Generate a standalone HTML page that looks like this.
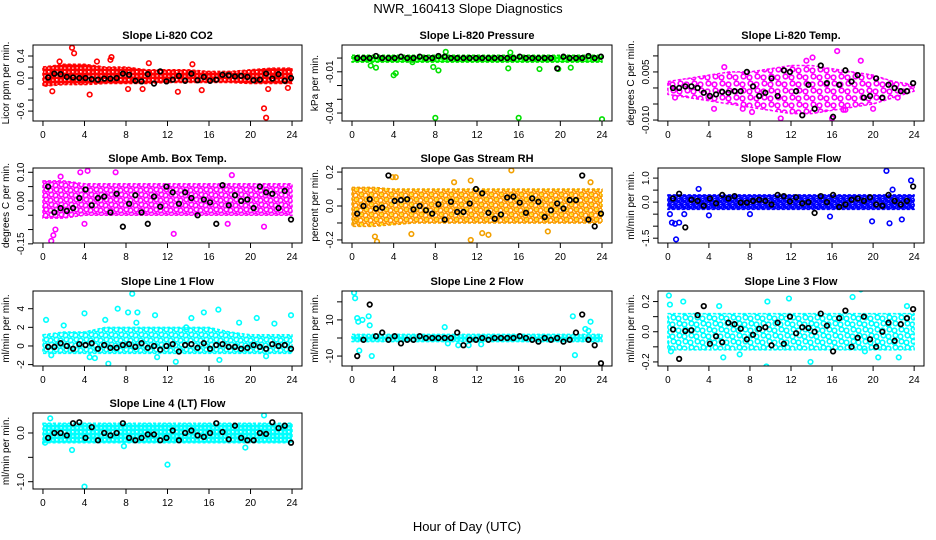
<!DOCTYPE html>
<html><head><meta charset="utf-8"><style>
html,body{margin:0;padding:0;background:#fff}
svg{display:block;font-family:"Liberation Sans",sans-serif}
</style></head><body>
<svg id="chart" width="936" height="540" viewBox="0 0 936 540" xmlns="http://www.w3.org/2000/svg">
<text x="468" y="13" text-anchor="middle" font-size="13">NWR_160413  Slope Diagnostics</text>
<text x="467" y="531" text-anchor="middle" font-size="13">Hour of Day (UTC)</text>
</svg>
<script>
// ---- data ----
const titles = ["Slope Li-820 CO2","Slope Li-820 Pressure","Slope Li-820 Temp.","Slope Amb. Box Temp.","Slope Gas Stream RH","Slope Sample Flow","Slope Line 1 Flow","Slope Line 2 Flow","Slope Line 3 Flow","Slope Line 4 (LT) Flow"];
const yTitles = ["Licor ppm per min.","kPa per min.","degrees C per min.","degrees C per min.","percent per min.","ml/min per min.","ml/min per min.","ml/min per min.","ml/min per min.","ml/min per min."];
const yLimits = [[-0.78,0.6],[-0.0458,0.0095],[-0.0103,0.0134],[-0.147,0.115],[-0.218,0.224],[-1.7,1.42],[-2.15,5.9],[-15.5,26],[-0.227,0.27],[-1.15,0.41]];
const yTicks = [[-0.6,-0.4,-0.2,0,0.2,0.4],[-0.04,-0.03,-0.02,-0.01,0],[-0.01,-0.005,0,0.005,0.01],[-0.15,-0.1,-0.05,0,0.05,0.1],[-0.2,-0.1,0,0.1,0.2],[-1.5,-1,-0.5,0,0.5,1],[-2,0,2,4],[-10,0,10,20],[-0.2,-0.1,0,0.1,0.2],[-1,-0.5,0]];
const yTickLabels = [["-0.6","0.0","0.4"],["-0.04","-0.01"],["-0.010","0.005"],["-0.15","0.00","0.10"],["-0.2","0.0","0.2"],["-1.5","0.0","1.0"],["-2","0","2","4"],["-10","10"],["-0.2","0.0","0.2"],["-1.0","0.0"]];
const yTickLabelValues = [[-0.6,0,0.4],[-0.04,-0.01],[-0.01,0.005],[-0.15,0,0.1],[-0.2,0,0.2],[-1.5,0,1],[-2,0,2,4],[-10,10],[-0.2,0,0.2],[-1,0]];
const xTicks = [0,4,8,12,16,20,24];
const bandHours = [0,2,4,6,8,10,12,14,16,18,20,22,24];
const bandHi = [
 [0.2,0.25,0.25,0.2,0.2,0.15,0.15,0.15,0.12,0.12,0.15,0.18,0.18],
 [0.002,0.002,0.002,0.002,0.002,0.002,0.002,0.002,0.002,0.002,0.002,0.002,0.002],
 [0.002,0.003,0.004,0.005,0.005,0.006,0.007,0.007,0.006,0.005,0.004,0.002,0.001],
 [0.07,0.07,0.06,0.06,0.06,0.06,0.06,0.06,0.06,0.06,0.06,0.06,0.06],
 [0.11,0.11,0.1,0.1,0.1,0.1,0.1,0.1,0.1,0.1,0.1,0.1,0.1],
 [0.3,0.3,0.3,0.3,0.3,0.3,0.3,0.3,0.3,0.3,0.3,0.3,0.3],
 [1.2,1.5,1.5,2,2,2,2,2,2,1.5,1.2,1.2,1.2],
 [2,2,2,2,2,2,2,2,2,2,2,2,2],
 [0.12,0.12,0.12,0.12,0.12,0.12,0.12,0.12,0.12,0.12,0.12,0.12,0.12],
 [0.2,0.2,0.2,0.2,0.2,0.2,0.2,0.2,0.2,0.2,0.2,0.2,0.2]];
const bandLo = [
 [-0.15,-0.12,-0.12,-0.1,-0.1,-0.1,-0.08,-0.08,-0.08,-0.08,-0.1,-0.1,-0.1],
 [-0.003,-0.003,-0.003,-0.003,-0.003,-0.003,-0.003,-0.003,-0.003,-0.003,-0.003,-0.003,-0.003],
 [-0.002,-0.003,-0.004,-0.005,-0.006,-0.007,-0.008,-0.008,-0.007,-0.006,-0.005,-0.003,-0.001],
 [-0.06,-0.06,-0.05,-0.05,-0.05,-0.05,-0.05,-0.05,-0.05,-0.05,-0.05,-0.05,-0.05],
 [-0.12,-0.12,-0.11,-0.1,-0.1,-0.1,-0.1,-0.1,-0.1,-0.1,-0.1,-0.1,-0.1],
 [-0.3,-0.3,-0.3,-0.3,-0.3,-0.3,-0.3,-0.3,-0.3,-0.3,-0.3,-0.3,-0.3],
 [-0.8,-0.8,-0.8,-0.8,-0.8,-0.8,-0.8,-0.8,-0.8,-0.8,-0.8,-0.8,-0.8],
 [-2,-2,-2,-2,-2,-2,-2,-2,-2,-2,-2,-2,-2],
 [-0.12,-0.12,-0.12,-0.12,-0.12,-0.12,-0.12,-0.12,-0.12,-0.12,-0.12,-0.12,-0.12],
 [-0.2,-0.2,-0.2,-0.2,-0.2,-0.2,-0.2,-0.2,-0.2,-0.2,-0.2,-0.2,-0.2]];
const outlierHours = [
 [2.8,3,4.5,6.6,6.5,8.2,9.6,13,14.4,15.3,21.3,21.5,21.7,23.6,5.2,1.6,10.2,0.9],
 [8,16,24,4,4.2,8.3,1.8,2.3,9,15.2,19.8,18,15,7.8,5.8,21],
 [16.5,14.1,11,16,17.3,17.1,8.2,7.3,20,4.5,5.5,13.5,18.8,0.7,22.4],
 [0.8,1,1.2,1.7,4.3,3.6,7,12.6,18.2,21.3,0.3,4,17.8],
 [2.2,2.4,3.9,4.2,9.8,11.4,11.4,12.5,13.1,15.3,22.9,5.7,18.8,0.3],
 [21.3,23.7,0.2,0.4,0.7,0.8,1.1,4,8,15.8,19.9,21.6,22.8,3,21.9,1.6],
 [8.6,7.2,8.2,9.1,4,10.8,16.9,23.9,15.5,0.3,6,14.3,20.6,18.9,6.3,12.8,17,4.5,5,11,21.5,2,13.8,22.3,0.8,9],
 [0.2,0.3,0.5,0.6,1,1.6,1.7,1.9,0.7,8.9,21.2,21.4,22.9,22.4,22.7,9.2,10.2,11.2,12.4],
 [0.1,0.2,1.5,5,11.8,18,18.8,9.7,0.3,9.6,13.9,5.4,20.5,22.5,19.2,7,23.3],
 [4,12,0.7,21.3,2.8,19.5,7.8,0.2]];
const outlierValues = [
 [0.55,0.45,-0.3,0.38,0.33,-0.2,-0.2,-0.25,0.25,-0.22,-0.55,-0.72,-0.2,-0.18,0.3,0.3,0.27,-0.24],
 [-0.0435,-0.0435,-0.0445,-0.0125,-0.011,-0.009,-0.0055,-0.007,0.0045,0.004,-0.008,-0.008,-0.0075,-0.0065,-0.003,-0.007],
 [0.0115,0.0095,-0.0095,-0.0095,-0.0068,-0.0068,-0.0075,-0.0065,-0.0065,-0.0065,0.0065,0.0085,0.0085,-0.003,-0.003],
 [-0.14,-0.12,-0.1,0.085,0.105,0.1,0.1,-0.115,0.09,-0.09,-0.03,-0.08,-0.08],
 [-0.18,-0.21,0.17,0.17,0.14,0.15,-0.2,-0.16,-0.17,0.21,0.14,-0.165,-0.15,-0.09],
 [1.3,0.9,-0.5,-0.85,-0.9,-1.55,-0.85,-0.55,-0.5,-0.6,-0.8,-0.88,-0.72,0.55,0.52,-0.5],
 [5.6,4,3.6,3.6,3.5,3.3,3.9,3.3,3.6,2.8,2.8,3,3,2.5,-1.9,-1.7,-1.5,-1.2,-1.3,-1.2,-1.1,2.2,2.0,2.4,-1,2.5],
 [25,22,11,9,10,12,7,-10,-7,6,12,-9.5,9,5,4,-3,-4,-4,-3.5],
 [0.24,0.18,0.2,0.17,0.22,0.23,0.28,0.2,-0.13,-0.23,-0.2,-0.17,-0.17,-0.17,-0.13,-0.15,0.17],
 [-1.1,-0.65,0.3,0.36,-0.35,-0.3,-0.27,-0.2]];
const blackValues = [
 [0.01,0.08,0.07,0.02,0.01,0,0.0,-0.02,-0.03,-0.01,-0.01,0.0,0.08,0.06,-0.05,-0.06,0.07,-0.1,0.12,-0.06,-0.03,0.04,-0.05,0.08,-0.04,0.02,-0.05,-0.03,0.06,0.05,0.03,0.04,0.02,-0.04,-0.03,0.08,-0.01,0.07,-0.05,0.0],
 [0,0,0,0.0015,0,0,0,0.001,0,0,0.001,0,0,0.0015,0.001,0,0,0,0,0,0,0,0,0,0,0,0.001,0,0,0,0,0,-0.0075,0.001,0,0,0,0.0015,0,0.001],
 [0,0,0.0005,0.0005,0,-0.0015,-0.0025,-0.002,-0.0012,-0.0015,-0.001,-0.001,0.005,0.0005,-0.0025,-0.0015,0.003,-0.0025,0.0055,0.005,-0.001,-0.0085,0.001,-0.0065,0.007,0.0015,-0.009,0.001,0.0055,0.002,0.004,-0.003,-0.0025,0.003,-0.003,0.001,0,-0.001,-0.001,0.0015],
 [0.05,-0.04,-0.025,-0.035,-0.025,0.01,0.04,-0.015,0.01,0.015,-0.04,0.025,-0.09,-0.01,0.02,-0.04,-0.08,0.015,-0.02,0.05,0.03,-0.01,0.03,0.01,-0.05,0.005,-0.005,-0.08,0.055,-0.015,0.02,0,0.005,-0.025,0.05,0.03,0.025,-0.025,0.035,-0.065],
 [-0.045,0,0.04,-0.015,-0.01,0.18,0.03,0.035,0.04,-0.02,0,-0.025,-0.045,0.01,-0.08,0.025,-0.035,-0.035,0.015,0.1,0.075,-0.04,-0.075,-0.05,0.05,0.055,0.02,-0.04,0.045,0.025,-0.065,-0.025,0.015,-0.015,0.035,0.035,0.18,-0.08,-0.12,-0.045],
 [0.15,0.35,-1.05,0.1,0.05,-0.15,0.15,-0.05,0.3,0.15,0.25,-0.02,-0.02,0.05,0.1,0.05,-0.1,0.3,0.25,0.03,0.2,-0.05,0.0,-0.45,0.25,0.0,0.3,-0.2,-0.1,0.1,0.15,0.05,0.2,-0.1,-0.15,0.3,0.05,-0.1,0.05,0.65],
 [-0.1,-0.1,0.3,0,-0.3,0.2,0.1,0.3,-0.3,0.1,-0.2,-0.2,0.1,0.2,-0.1,0.3,-0.2,0.0,-0.4,0.0,0.2,-0.6,0.1,0.2,-0.2,0.3,-0.3,0.1,0.2,-0.1,-0.1,-0.3,-0.2,0.1,-0.1,-0.3,0.2,0.0,0.1,-0.3],
 [-10,-1,18.5,1,3,-1,1,-3,-1,-1,1,0,0,0,0,0,3,-4,-1,-1,0,-1,0,0,0,0,1,0,-1,-2,0,-1,0,-2,-1,3,13,-1,-4,-14],
 [0.015,-0.18,0.005,0.01,0.11,0.17,-0.08,-0.03,-0.07,0.06,0.05,0.02,-0.05,-0.02,0.02,0.03,-0.09,0.06,-0.08,0.1,-0.01,0.03,0.025,0.0,0.12,0.04,-0.13,0.09,0.14,-0.1,-0.04,0.1,-0.05,-0.1,0.0,0.06,-0.06,0.05,0.09,0.15],
 [-0.1,0.0,0.0,-0.05,0.2,0.22,-0.1,0.12,-0.15,0.0,-0.05,0.0,0.2,-0.1,-0.15,-0.1,-0.03,-0.03,-0.15,-0.1,0.05,-0.15,0.0,0.05,-0.05,-0.08,0.0,0.2,0.02,-0.13,0.15,-0.1,-0.15,-0.15,0.0,-0.02,0.22,0.1,0.15,-0.2]];
const seriesColors = ["#ff0000","#00e000","#ff00ff","#ff00ff","#f2a000","#0000ff","#00ffff","#00ffff","#00ffff","#00ffff"];
const bandFills = ["#ff0000","#00ff00","#ff00ff","#ff00ff","#ff9900","#0000ff","#00ffff","#00ffff","#00ffff","#00ffff"];
const bandSpacing = [4,4,7,5,5,3,5,4,6,4];

// ---- layout ----
const colL=[33,342,658], colR=[302,612,924];
const rowT=[45,168,291,413], rowB=[121,243,366,489];
const NS="http://www.w3.org/2000/svg";
const svg=document.getElementById('chart');
function mk(tag,attrs,parent){const e=document.createElementNS(NS,tag);for(const k in attrs)e.setAttribute(k,attrs[k]);(parent||svg).appendChild(e);return e;}
const defs=mk('defs',{});

titles.forEach((title,p)=>{
  const c=p%3, r=Math.floor(p/3);
  const L=colL[c], R=colR[c], T=rowT[r], B=rowB[r];
  const padX=(R-L)*0.04/1.08;
  const xs=h=>L+padX+(h/24)*(R-L-2*padX);
  const [ymin,ymax]=yLimits[p];
  const ys=v=>B-(v-ymin)/(ymax-ymin)*(B-T);
  // texture pattern of ring markers
  const s=bandSpacing[p];
  const pat=mk('pattern',{id:'pat'+p,width:s*2,height:s*2,patternUnits:'userSpaceOnUse'},defs);
  mk('rect',{width:s*2,height:s*2,fill:'#fff'},pat);
  [[0,0],[s,s],[s*2,0],[0,s*2],[s*2,s*2]].forEach(([a,b])=>mk('circle',{cx:a+0.5,cy:b+0.5,r:2.3,fill:'none',stroke:bandFills[p],'stroke-width':1.6},pat));
  [[s,0],[0,s],[s*2,s],[s,s*2]].forEach(([a,b])=>mk('circle',{cx:a+1.5,cy:b-0.5,r:2.3,fill:'none',stroke:bandFills[p],'stroke-width':1.6},pat));
  if(p===4){[[s,0],[0,s],[s*2,s],[s,s*2]].forEach(([a,b])=>mk('circle',{cx:a+1.5,cy:b-0.5,r:1.2,fill:'#ffee00'},pat));}

  const g=mk('g',{});
  
  
  const clipId='clip'+p;
  const cp=mk('clipPath',{id:clipId},g);
  mk('rect',{x:L,y:T,width:R-L,height:B-T},cp);
  const pg=mk('g',{'clip-path':'url(#'+clipId+')'},g);
  let pts=bandHours.map((h,i)=>xs(h)+','+ys(bandHi[p][i]));
  pts=pts.concat(bandHours.slice().reverse().map((h,i)=>xs(h)+','+ys(bandLo[p][bandHours.length-1-i])));
  const band=mk('polygon',{points:pts.join(' '),fill:'url(#pat'+p+')',stroke:seriesColors[p],'stroke-width':'1.5','stroke-dasharray':'3 2','stroke-linejoin':'round'},pg);
  
  
  outlierHours[p].forEach((h,i)=>{
    const pt=mk('circle',{cx:xs(h),cy:ys(outlierValues[p][i]),r:2.3,fill:'none',stroke:seriesColors[p],'stroke-width':1.6},pg);
    
    
  });
  const n=blackValues[p].length;
  blackValues[p].forEach((v,i)=>{
    const h=0.5+i*(23.4/(n-1));
    const pt=mk('circle',{cx:xs(h),cy:ys(v),r:2.3,fill:'none',stroke:'#000','stroke-width':1.7},pg);
    
    
  });
  const box=mk('rect',{x:L,y:T,width:R-L,height:B-T,fill:'none',stroke:'#000','stroke-width':1},g);
  
  
  const t=mk('text',{x:(L+R)/2,y:T-6,'text-anchor':'middle','font-size':'11','font-weight':'bold'},g);
  t.textContent=title;
  
  
  xTicks.forEach(h=>{
    mk('line',{x1:xs(h),x2:xs(h),y1:B,y2:B+5,stroke:'#000'},g);
    const tl=mk('text',{x:xs(h),y:B+17,'text-anchor':'middle','font-size':'10'},g);
    tl.textContent=h;
    
    
  });
  yTicks[p].forEach(v=>{mk('line',{x1:L-5,x2:L,y1:ys(v),y2:ys(v),stroke:'#000'},g);});
  yTickLabels[p].forEach((lab,i)=>{
    const y=ys(yTickLabelValues[p][i]), x=L-9;
    const tl=mk('text',{x:x,y:y,'text-anchor':'middle','font-size':'10',transform:'rotate(-90 '+x+' '+y+')'},g);
    tl.textContent=lab;
    
    
  });
  const yx=L-24, yy=(T+B)/2;
  const yt=mk('text',{x:yx,y:yy,'text-anchor':'middle','font-size':'10',transform:'rotate(-90 '+yx+' '+yy+')'},g);
  yt.textContent=yTitles[p];
  
  
});
</script>
</body></html>
